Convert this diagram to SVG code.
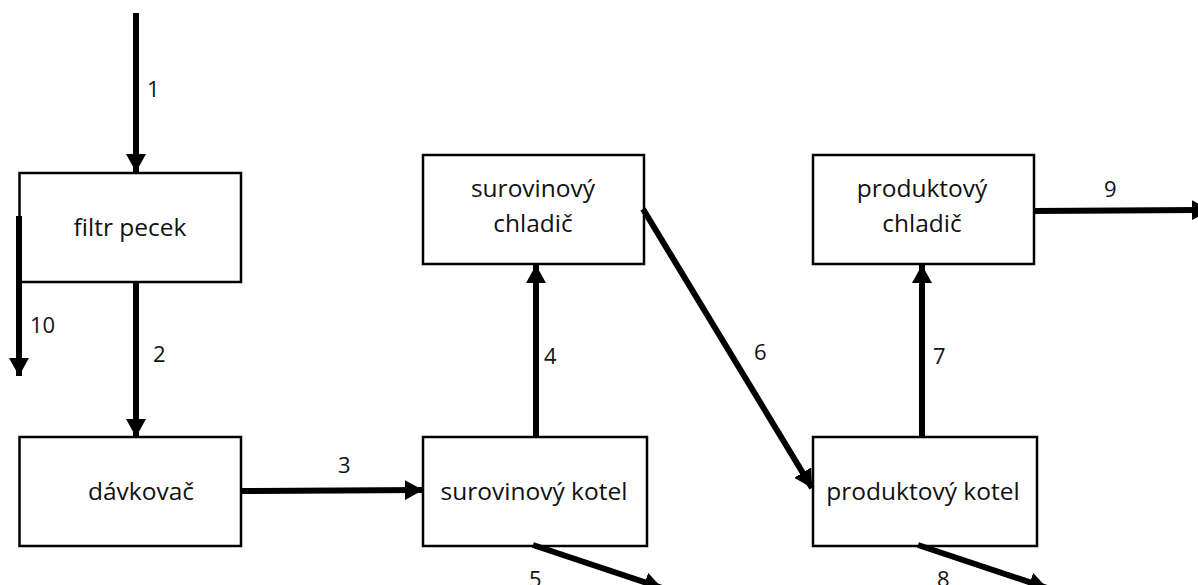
<svg xmlns="http://www.w3.org/2000/svg" width="1198" height="585" viewBox="0 0 1198 585">
<style>
.box{fill:#fff;stroke:#000;stroke-width:2.5}
.t{font-family:"Open Sans","Liberation Sans",sans-serif;font-size:24.5px;fill:#111;text-anchor:middle}
.l{font-family:"Open Sans","Liberation Sans",sans-serif;font-size:22px;fill:#111}
.c{stroke:#000;stroke-width:6;fill:none;marker-end:url(#ah)}
</style>
<defs>
<marker id="ah" markerUnits="userSpaceOnUse" viewBox="0 0 18 20" refX="18" refY="10" markerWidth="18" markerHeight="20" orient="auto">
<path d="M0,0 L18,10 L0,20 Z" fill="#000"/>
</marker>
</defs>
<rect width="1198" height="585" fill="#fff"/>
<g id="n-filtr"><rect class="box" x="19.5" y="173" width="221.5" height="109"/><text class="t" x="130" y="236">filtr pecek</text></g>
<g id="n-davkovac"><rect class="box" x="19.5" y="437" width="221.5" height="109"/><text class="t" x="141" y="500">dávkovač</text></g>
<g id="n-surkotel"><rect class="box" x="423" y="437" width="224" height="109"/><text class="t" x="534" y="500">surovinový kotel</text></g>
<g id="n-surchladic"><rect class="box" x="423" y="155" width="221" height="109"/><text class="t" x="533" y="197">surovinový</text><text class="t" x="533" y="232">chladič</text></g>
<g id="n-prodkotel"><rect class="box" x="813" y="437" width="224" height="109"/><text class="t" x="923" y="500">produktový kotel</text></g>
<g id="n-prodchladic"><rect class="box" x="813" y="155" width="221" height="109"/><text class="t" x="922" y="197">produktový</text><text class="t" x="922" y="232">chladič</text></g>
<g id="connectors">
<line class="c" x1="136" y1="13" x2="136" y2="172"/>
<line class="c" x1="136" y1="282" x2="136" y2="437"/>
<line class="c" x1="19" y1="216" x2="19" y2="376"/>
<line class="c" x1="241" y1="491" x2="423" y2="490"/>
<line class="c" x1="536" y1="437" x2="536" y2="265"/>
<line class="c" x1="643" y1="209" x2="812" y2="488"/>
<line class="c" x1="922" y1="437" x2="922" y2="265"/>
<line class="c" x1="1034" y1="211" x2="1210" y2="210"/>
<line class="c" x1="533" y1="545" x2="662" y2="588"/>
<line class="c" x1="918" y1="545" x2="1047" y2="588"/>
<text class="l" x="147" y="97">1</text>
<text class="l" x="153" y="362">2</text>
<text class="l" x="30" y="333">10</text>
<text class="l" x="338" y="473">3</text>
<text class="l" x="544" y="364">4</text>
<text class="l" x="754" y="360">6</text>
<text class="l" x="933" y="364">7</text>
<text class="l" x="1104" y="197">9</text>
<text class="l" x="529" y="587">5</text>
<text class="l" x="937" y="587">8</text>
</g>
</svg>
